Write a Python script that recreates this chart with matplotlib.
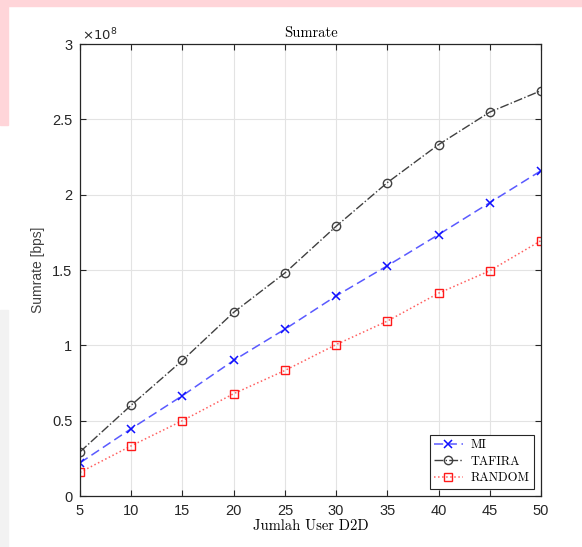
import matplotlib
matplotlib.use("Agg")
import matplotlib.pyplot as plt
from matplotlib.patches import Rectangle
from matplotlib.ticker import FuncFormatter

users = [5, 10, 15, 20, 25, 30, 35, 40, 45, 50]
mi = [0.220, 0.447, 0.666, 0.900, 1.107, 1.328, 1.528, 1.735, 1.947, 2.159]
tafira = [0.293, 0.603, 0.900, 1.219, 1.480, 1.790, 2.080, 2.332, 2.548, 2.690]
random_ = [0.157, 0.333, 0.500, 0.679, 0.833, 1.005, 1.161, 1.346, 1.495, 1.695]
scale = 1e8

serif = "cmr10"
axcol = "#262626"

fig = plt.figure(figsize=(5.82, 5.47), dpi=100)
# screenshot frame around the white figure
fig.patches.append(Rectangle((0, 1 - 6 / 547), 1, 6 / 547, transform=fig.transFigure,
                             color="#ffd5d9", zorder=-10))
fig.patches.append(Rectangle((0, 1 - 125 / 547), 8 / 582, 125 / 547, transform=fig.transFigure,
                             color="#ffd5d9", zorder=-10))
fig.patches.append(Rectangle((0, 0), 8 / 582, 1 - 310 / 547, transform=fig.transFigure,
                             color="#f2f2f2", zorder=-10))

ax = fig.add_axes([80 / 582, 1 - 496 / 547, 461 / 582, 452 / 547])

ax.plot(users, [v * scale for v in mi], ls=(0, (6, 3)), color="#5a5aff", lw=1.1,
        marker="x", ms=6, mec="#1010ff", mew=1.1, label="MI")
ax.plot(users, [v * scale for v in tafira], ls="-.", color="#404040", lw=1.0,
        marker="o", ms=6, mfc="none", mec="#404040", mew=1.0, label="TAFIRA")
ax.plot(users, [v * scale for v in random_], ls=":", color="#ff6060", lw=1.1,
        marker="s", ms=6, mfc="none", mec="#ff1a1a", mew=1.0, label="RANDOM")

ax.set_xlim(5, 50)
ax.set_ylim(0, 3e8)
ax.set_xticks(users)
ax.set_yticks([v * scale for v in [0, 0.5, 1, 1.5, 2, 2.5, 3]])
ax.yaxis.set_major_formatter(FuncFormatter(lambda v, p: f"{v / scale:g}"))
ax.grid(True, color="#e3e3e3", lw=0.8)
ax.set_axisbelow(True)
ax.tick_params(direction="in", top=True, right=True, length=4, width=0.8,
               colors=axcol, labelsize=10.5, labelcolor=axcol)
ax.tick_params(axis="x", pad=6)
ax.tick_params(axis="y", pad=5.5)
for lbl in ax.get_xticklabels() + ax.get_yticklabels():
    lbl.set_family("Liberation Sans")
for s in ax.spines.values():
    s.set_color(axcol)
    s.set_linewidth(0.9)

ax.text(0.004, 1.002, r"$\times10^{8}$", transform=ax.transAxes, ha="left", va="bottom",
        fontsize=9.5, color=axcol, family="Liberation Sans")
ax.set_title("Sumrate", fontsize=10.5, family=serif, pad=5)
ax.set_xlabel("Jumlah User D2D", fontsize=10.5, family=serif, labelpad=1)
ax.set_ylabel("Sumrate [bps]", fontsize=10, family="Liberation Sans", color="#404040",
              labelpad=5)

leg = ax.legend(loc="lower right", prop={"family": serif, "size": 9}, handlelength=2.3,
                fancybox=False, edgecolor=axcol, framealpha=1, borderaxespad=0.6,
                labelspacing=0.35, handletextpad=0.6, borderpad=0.35)
leg.get_frame().set_linewidth(0.8)

fig.savefig("out.png", dpi=100)
